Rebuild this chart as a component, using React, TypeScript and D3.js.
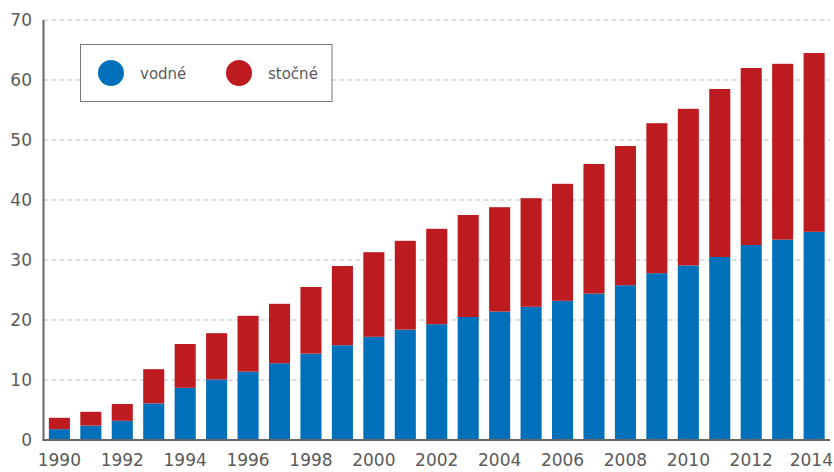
import React from "react";
import * as d3 from "d3";

const years = [1990,1991,1992,1993,1994,1995,1996,1997,1998,1999,2000,2001,2002,2003,2004,2005,2006,2007,2008,2009,2010,2011,2012,2013,2014];
const vodne = [1.8,2.4,3.2,6.1,8.7,10.1,11.4,12.8,14.4,15.8,17.2,18.4,19.3,20.5,21.4,22.2,23.2,24.4,25.8,27.8,29.1,30.5,32.5,33.4,34.7];
const totals = [3.7,4.7,6.0,11.8,16.0,17.8,20.7,22.7,25.5,29.0,31.3,33.2,35.2,37.5,38.8,40.3,42.7,46.0,49.0,52.8,55.2,58.5,62.0,62.7,64.5];
const stocne = totals.map((t, i) => +(t - vodne[i]).toFixed(2));
const yTicks = [0,10,20,30,40,50,60,70];
const seriesNames = ["vodné", "stočné"];
const colors = ["#0070bb", "#be1b20"];

export default function App() {
  const W = 834, H = 472;
  const x0 = 43.5, x1 = 830;
  const x = d3.scaleBand<number>().domain(years).range([x0, x1]).paddingInner(0.33).paddingOuter(0.17);
  const y = d3.scaleLinear().domain([0, 70]).range([440, 20]);
  const font = "'DejaVu Sans', sans-serif";
  const textColor = "#5a5a5a";
  const stack = d3.stack<any>().keys(["v", "s"])(years.map((yr, i) => ({ yr, v: vodne[i], s: stocne[i] })));
  const labelYears = years.filter((_, i) => i % 2 === 0);
  return (
    <div style={{ position: "absolute", left: 0, top: 0 }}>
      <svg width={W} height={H} style={{ display: "block", background: "#fff" }}>
        {yTicks.filter(t => t > 0).map(t => (
          <line key={t} x1={x0} x2={x1} y1={y(t)} y2={y(t)} stroke="#bdbdbd" strokeWidth={1} strokeDasharray="5,3" />
        ))}
        {stack.map((layer, li) => (
          <g key={li} fill={colors[li]}>
            {layer.map((d, i) => (
              <rect key={i} x={x(years[i])} width={x.bandwidth()} y={y(d[1])} height={y(d[0]) - y(d[1])} />
            ))}
          </g>
        ))}
        <line x1={x0} x2={x0} y1={y(70)} y2={y(0) + 1} stroke="#666" strokeWidth={2} />
        <line x1={x0 - 1} x2={x1} y1={y(0)} y2={y(0)} stroke="#666" strokeWidth={2} />
        {yTicks.map(t => (
          <text key={t} x={32} y={y(t)} dy="0.36em" textAnchor="end" fontFamily={font} fontSize={17} fill={textColor}>{t}</text>
        ))}
        {labelYears.map((yr, i) => {
          const last = i === labelYears.length - 1;
          return (
            <text key={yr} x={last ? W - 1 : (x(yr) as number) + x.bandwidth() / 2} y={466} textAnchor={last ? "end" : "middle"} fontFamily={font} fontSize={17} fill={textColor}>{yr}</text>
          );
        })}
        <rect x={80.5} y={44.5} width={251.5} height={57} fill="#fff" stroke="#777" strokeWidth={1} />
        {seriesNames.map((n, i) => (
          <g key={n}>
            <circle cx={111 + i * 128} cy={73} r={13} fill={colors[i]} />
            <text x={140 + i * 128} y={79} fontFamily={font} fontSize={15} fill={textColor}>{n}</text>
          </g>
        ))}
      </svg>
    </div>
  );
}
